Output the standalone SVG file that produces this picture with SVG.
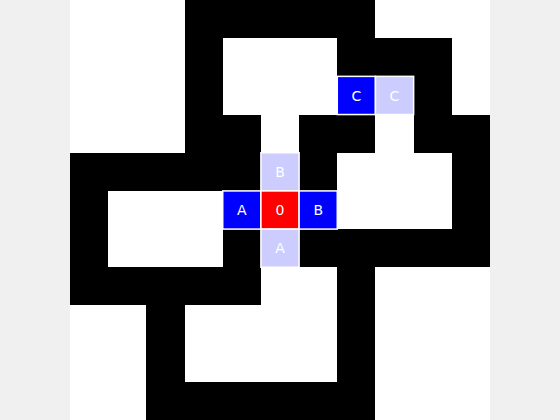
<svg xmlns="http://www.w3.org/2000/svg" width="560" height="420" viewBox="0 0 560 420">
<style>
.w{fill:#000;shape-rendering:crispEdges}
.c{stroke:#fff;stroke-width:0.04}
.t{fill:#fff;font-family:"DejaVu Sans",sans-serif;font-size:14px;text-anchor:middle;dominant-baseline:central}
</style>
<rect width="560" height="420" fill="#f0f0f0"/>
<g id="grid" transform="translate(70,0) scale(38.181818)">
<rect width="11" height="11" fill="#fff"/>
<g id="walls" class="w">
<rect x="3" y="0" width="5" height="1"/>
<rect x="3" y="1" width="1" height="1"/><rect x="7" y="1" width="3" height="1"/>
<rect x="3" y="2" width="1" height="1"/><rect x="9" y="2" width="1" height="1"/>
<rect x="3" y="3" width="2" height="1"/><rect x="6" y="3" width="2" height="1"/><rect x="9" y="3" width="2" height="1"/>
<rect x="0" y="4" width="5" height="1"/><rect x="6" y="4" width="1" height="1"/><rect x="10" y="4" width="1" height="1"/>
<rect x="0" y="5" width="1" height="1"/><rect x="10" y="5" width="1" height="1"/>
<rect x="0" y="6" width="1" height="1"/><rect x="4" y="6" width="1" height="1"/><rect x="6" y="6" width="5" height="1"/>
<rect x="0" y="7" width="5" height="1"/><rect x="7" y="7" width="1" height="1"/>
<rect x="2" y="8" width="1" height="1"/><rect x="7" y="8" width="1" height="1"/>
<rect x="2" y="9" width="1" height="1"/><rect x="7" y="9" width="1" height="1"/>
<rect x="2" y="10" width="6" height="1"/>
</g>
<g id="cells" class="c">
<rect x="7" y="2" width="1" height="1" fill="#0000ff"/>
<rect x="8" y="2" width="1" height="1" fill="#ccccff"/>
<rect x="5" y="4" width="1" height="1" fill="#ccccff"/>
<rect x="4" y="5" width="1" height="1" fill="#0000ff"/>
<rect x="5" y="5" width="1" height="1" fill="#ff0000"/>
<rect x="6" y="5" width="1" height="1" fill="#0000ff"/>
<rect x="5" y="6" width="1" height="1" fill="#ccccff"/>
</g>
</g>
<g id="labels" class="t">
<text x="356.4" y="95.5">C</text>
<text x="394.5" y="95.5">C</text>
<text x="280" y="171.8">B</text>
<text x="241.8" y="210">A</text>
<text x="280" y="210">0</text>
<text x="318.2" y="210">B</text>
<text x="280" y="248.2">A</text>
</g>
</svg>
